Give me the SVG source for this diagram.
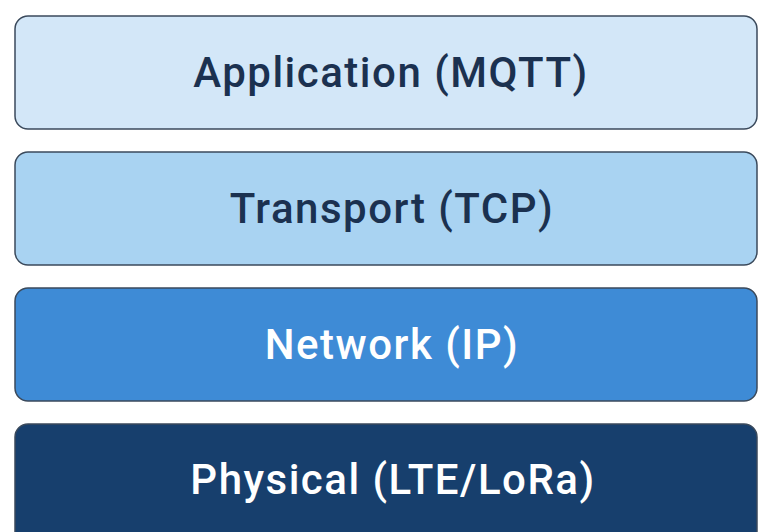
<svg xmlns="http://www.w3.org/2000/svg" width="759" height="532" viewBox="0 0 759 532">
  <style>
    .layer { stroke: #3b4a5c; stroke-width: 1.5; }
    .label { font-family: Roboto, "Liberation Sans", sans-serif; font-weight: 500; font-size: 42px; letter-spacing: 1.5px; text-anchor: middle; }
    .dark { fill: #1b3150; }
    .light { fill: #ffffff; }
  </style>
  <rect width="759" height="532" fill="#ffffff"/>
  <g id="application">
    <rect class="layer" x="15" y="16" width="742" height="113" rx="13" fill="#d3e7f8"/>
    <text class="label dark" x="391" y="87">Application (MQTT)</text>
  </g>
  <g id="transport">
    <rect class="layer" x="15" y="152" width="742" height="113" rx="13" fill="#a9d3f2"/>
    <text class="label dark" x="392" y="223">Transport (TCP)</text>
  </g>
  <g id="network">
    <rect class="layer" x="15" y="288" width="742" height="113" rx="13" fill="#3e8bd6"/>
    <text class="label light" x="392" y="359">Network (IP)</text>
  </g>
  <g id="physical">
    <rect class="layer" x="15" y="424" width="742" height="120" rx="13" fill="#173f6d"/>
    <text class="label light" x="393" y="494">Physical (LTE/LoRa)</text>
  </g>
  <g id="connectors"/>
</svg>
